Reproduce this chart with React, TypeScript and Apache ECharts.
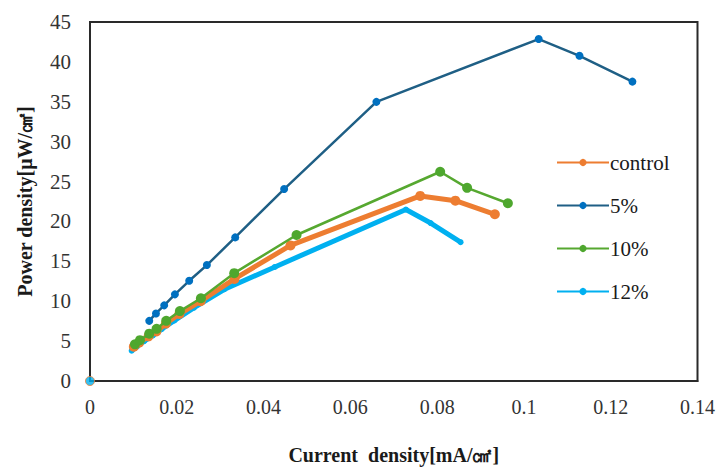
import React, { useEffect, useRef } from "react";
import * as echarts from "echarts";

const CONTROL_X = [0.0101, 0.0113, 0.0135, 0.0153, 0.0175, 0.0206, 0.0255, 0.0333, 0.0462, 0.0761, 0.0842, 0.0933];
const CONTROL_Y = [4.3, 4.8, 5.6, 6.2, 7.2, 8.4, 10.0, 12.8, 17.0, 23.2, 22.6, 20.9];

const P5_X = [0.01365, 0.0152, 0.0171, 0.01957, 0.02286, 0.02694, 0.03346, 0.04474, 0.066, 0.1034, 0.1128, 0.125];
const P5_Y = [7.54, 8.47, 9.48, 10.86, 12.56, 14.53, 18.0, 24.06, 34.99, 42.86, 40.76, 37.53];

const P10_X = [0.01036, 0.01151, 0.01365, 0.01535, 0.01757, 0.02072, 0.02556, 0.03323, 0.0476, 0.0807, 0.0869, 0.0963];
const P10_Y = [4.6, 5.12, 5.93, 6.54, 7.54, 8.76, 10.37, 13.52, 18.3, 26.23, 24.21, 22.28];

const P12_X = [0.0096, 0.0108, 0.0125, 0.0145, 0.0165, 0.0195, 0.024, 0.031, 0.0426, 0.0728, 0.0785, 0.0854];
const P12_Y = [3.8, 4.3, 5.0, 5.7, 6.5, 7.6, 9.2, 11.5, 14.3, 21.5, 19.8, 17.4];

const ORIGIN_X = [0];
const ORIGIN_Y = [0];

const SERIES_NAMES = ["control", "5%", "10%", "12%"];

const zip = (xs: number[], ys: number[]) => xs.map((x, i) => [x, ys[i]]);

const FONT = "'Liberation Serif', 'Times New Roman', serif";

export default function App() {
  const ref = useRef<HTMLDivElement>(null);
  useEffect(() => {
    if (!ref.current) return;
    const chart = echarts.init(ref.current, undefined, { renderer: "svg" });
    chart.setOption({
      animation: false,
      backgroundColor: "#ffffff",
      textStyle: { fontFamily: FONT, fontWeight: "normal" },
      grid: {
        left: 90,
        right: 20,
        top: 22,
        bottom: 76,
        show: true,
        borderColor: "#2a2a2a",
        borderWidth: 2,
        containLabel: false,
      },
      legend: {
        orient: "vertical",
        left: 551,
        top: 147,
        itemWidth: 52,
        itemHeight: 9,
        itemGap: 22,
        data: SERIES_NAMES,
        textStyle: { fontFamily: FONT, fontWeight: "normal", fontSize: 21, color: "#1a1a1a", padding: [0, 0, 0, -4] },
      },
      xAxis: {
        type: "value",
        min: 0,
        max: 0.14,
        interval: 0.02,
        name: "Current  density[mA/㎠]",
        nameLocation: "middle",
        nameGap: 64,
        nameTextStyle: { fontFamily: FONT, fontSize: 20, fontWeight: "bold", color: "#1a1a1a" },
        axisLine: { show: true, lineStyle: { color: "#2a2a2a", width: 2 } },
        axisTick: { show: false },
        splitLine: { show: false },
        axisLabel: { fontFamily: FONT, fontWeight: "normal", fontSize: 20, color: "#333", margin: 16 },
      },
      yAxis: {
        type: "value",
        min: 0,
        max: 45,
        interval: 5,
        name: "Power density[μW/㎠]",
        nameLocation: "middle",
        nameGap: 55,
        nameTextStyle: { fontFamily: FONT, fontSize: 20, fontWeight: "bold", color: "#1a1a1a" },
        axisLine: { show: true, lineStyle: { color: "#2a2a2a", width: 2 } },
        axisTick: { show: false },
        splitLine: { show: false },
        axisLabel: { fontFamily: FONT, fontWeight: "normal", fontSize: 21, color: "#333", margin: 19 },
      },
      series: [
        {
          name: "control",
          type: "line",
          data: zip(CONTROL_X, CONTROL_Y),
          symbol: "circle",
          symbolSize: 10,
          lineStyle: { color: "#ED7D31", width: 5 },
          itemStyle: { color: "#ED7D31" },
          z: 3,
        },
        {
          name: "5%",
          type: "line",
          data: zip(P5_X, P5_Y),
          symbol: "circle",
          symbolSize: 8,
          lineStyle: { color: "#1F5F85", width: 2.5 },
          itemStyle: { color: "#0070C0" },
          z: 4,
        },
        {
          name: "10%",
          type: "line",
          data: zip(P10_X, P10_Y),
          symbol: "circle",
          symbolSize: 10,
          lineStyle: { color: "#56A830", width: 2.5 },
          itemStyle: { color: "#4EA72E" },
          z: 4,
        },
        {
          name: "12%",
          type: "line",
          data: zip(P12_X, P12_Y),
          symbol: "circle",
          symbolSize: 6,
          lineStyle: { color: "#00B0F0", width: 5 },
          itemStyle: { color: "#00B0F0" },
          z: 2,
        },
        {
          name: "origin",
          type: "scatter",
          data: zip(ORIGIN_X, ORIGIN_Y),
          symbol: "circle",
          symbolSize: 9,
          itemStyle: { color: "#00B0F0", borderColor: "#ED7D31", borderWidth: 1 },
          z: 5,
        },
      ],
    });
    return () => chart.dispose();
  }, []);
  return (
    <div
      ref={ref}
      style={{ position: "fixed", left: 0, top: 0, width: 718, height: 470, background: "#fff" }}
    />
  );
}
